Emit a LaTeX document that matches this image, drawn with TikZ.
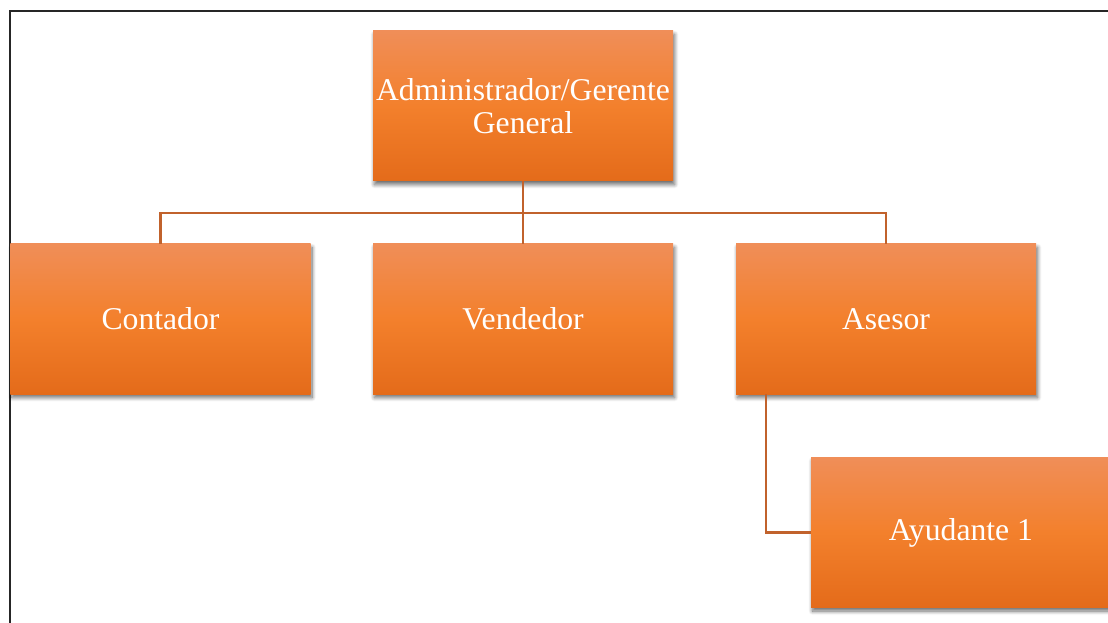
\documentclass[tikz,border=0pt]{standalone}
\usepackage{fontspec}
\setmainfont{Liberation Serif}
\usetikzlibrary{shadows.blur,calc}
\definecolor{linec}{RGB}{193,98,44}
\definecolor{otop}{RGB}{240,142,88}
\definecolor{omid}{RGB}{243,128,44}
\definecolor{obot}{RGB}{228,107,26}
\tikzset{
  orgbox/.style={rectangle, minimum width=300bp, minimum height=150bp, inner sep=0pt,
    top color=otop, bottom color=obot, middle color=omid, draw=none,
    text=white, align=center, font=\fontsize{31.8}{33}\selectfont,
    blur shadow={shadow xshift=1.5bp, shadow yshift=-3.5bp, shadow blur steps=8, shadow blur radius=4bp, shadow opacity=60}},
  conn/.style={draw=linec, line width=2.3bp}
}
\begin{document}
\begin{tikzpicture}[x=1bp,y=-1bp]
\useasboundingbox (0,0) rectangle (1108,623);
\clip (0,0) rectangle (1108,623);
\draw[black!85, line width=2bp] (9.8,10.8) rectangle (1130,650);
\node[orgbox] (top) at (523,106) {Administrador/Gerente\\General};
\node[orgbox] (cont) at (160.5,319) {Contador};
\node[orgbox] (vend) at (523,319) {Vendedor};
\node[orgbox] (ases) at (886,319) {Asesor};
\node[orgbox] (ayud) at (961,532.5) {Ayudante 1};
\coordinate (bus) at (523,213);
\draw[conn] (cont.north) |- (bus) -| (ases.north);
\draw[conn] (top.south) -- (vend.north);
\coordinate (ashook) at ($(ases.south west)+(30,0)$);
\draw[conn] (ashook) |- (ayud.west);
\end{tikzpicture}
\end{document}
